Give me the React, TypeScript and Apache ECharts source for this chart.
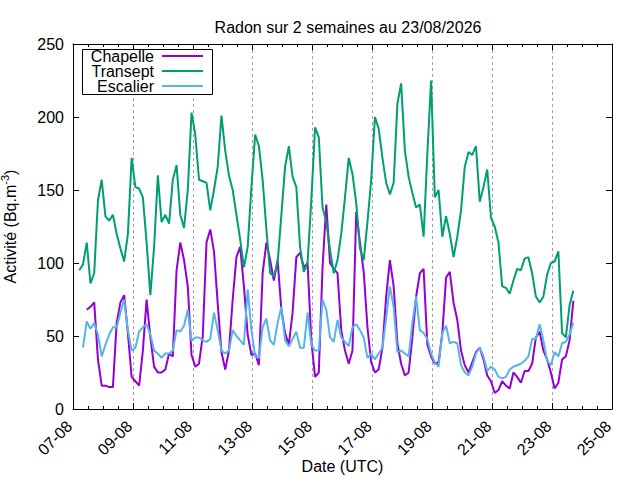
import React, { useEffect, useRef } from "react";
import * as echarts from "echarts";

// Regular sampling of the readings: first sample 07-08 05:00 UTC, one every 3 hours
const START = Date.UTC(2026, 7, 7, 5);
const STEP_HOURS = 3;
const DAY = 86400000;
const X_MIN = Date.UTC(2026, 7, 7);
const X_MAX = Date.UTC(2026, 7, 25);

const TITLE = "Radon sur 2 semaines au 23/08/2026";
const SERIES_NAMES = ["Chapelle", "Transept", "Escalier"];
const SERIES_COLORS = ["#9400d3", "#009e73", "#56b4e9"];

const chapelle = [
  null, null, 68, 70, 73, 34, 16, 16, 15, 15, 59, 73, 78, 52, 22, 19, 16, 40, 75, 49,
  29, 25, 25, 27, 38, 36, 95, 114, 102, 84, 37, 29, 31, 50, 114, 123, 108, 72, 39, 27,
  40, 75, 104, 111, 84, 51, 37, 38, 30, 93, 114, 102, 88, 102, 68, 52, 44, 66, 104, 107,
  97, 100, 47, 22, 25, 97, 140, 100, 96, 93, 54, 40, 31, 40, 135, 114, 94, 56, 32, 25,
  27, 42, 77, 102, 84, 45, 31, 23, 25, 49, 77, 93, 96, 44, 36, 31, 32, 52, 90, 94,
  73, 61, 40, 30, 25, 32, 39, 42, 34, 23, 19, 11, 13, 19, 16, 14, 25, 22, 18, 26,
  26, 31, 49, 53, 40, 34, 25, 14, 18, 34, 36, 47, 74,
];

const transept = [
  95, 99, 114, 86, 93, 143, 157, 132, 129, 133, 120, 110, 101, 120, 172, 152, 151, 145, 114, 78,
  111, 160, 128, 133, 127, 157, 167, 133, 124, 150, 203, 188, 157, 156, 155, 136, 150, 166, 201, 177,
  160, 150, 133, 116, 97, 111, 152, 188, 180, 157, 123, 93, 91, 100, 133, 166, 180, 159, 152, 111,
  94, 100, 143, 193, 186, 138, 128, 109, 93, 102, 120, 145, 172, 161, 141, 110, 102, 128, 157, 200,
  192, 172, 155, 147, 155, 209, 223, 177, 159, 148, 138, 140, 118, 175, 225, 145, 150, 118, 132, 120,
  104, 118, 136, 166, 176, 174, 180, 142, 152, 164, 131, 125, 114, 84, 83, 79, 88, 96, 95, 103,
  104, 93, 77, 73, 77, 92, 100, 101, 108, 52, 49, 71, 81,
];

const escalier = [
  null, 42, 60, 55, 59, 51, 36, 44, 51, 56, 56, 66, 75, 54, 40, 42, 53, 56, 58, 51,
  40, 38, 35, 38, 38, 40, 54, 53, 57, 68, 47, 49, 49, 47, 46, 48, 66, 54, 40, 38,
  40, 54, 50, 47, 44, 82, 54, 36, 35, 56, 62, 47, 44, 59, 70, 47, 43, 48, 53, 42,
  42, 66, 44, 40, 40, 75, 68, 49, 46, 61, 49, 46, 43, 56, 58, 54, 49, 35, 38, 34,
  38, 42, 62, 84, 70, 39, 40, 38, 36, 59, 77, 54, 52, 48, 38, 32, 29, 52, 57, 45,
  46, 45, 30, 25, 23, 29, 38, 42, 36, 26, 29, 27, 22, 21, 22, 27, 29, 30, 31, 33,
  36, 48, 48, 58, 47, 33, 30, 39, 36, 45, 46, 51, 59,
];

const FONT = "'Liberation Sans', Arial, Helvetica, sans-serif";
const FS = 16;

function toPairs(vals: (number | null)[]) {
  return vals.map((v, i) => [START + i * STEP_HOURS * 3600000, v]);
}

function fmtDate(v: number) {
  const d = new Date(v);
  const dd = String(d.getUTCDate()).padStart(2, "0");
  const mm = String(d.getUTCMonth() + 1).padStart(2, "0");
  return dd + "-" + mm;
}

export default function App() {
  const ref = useRef<HTMLDivElement>(null);

  useEffect(() => {
    document.body.style.margin = "0";
    if (!ref.current) return;
    const chart = echarts.init(ref.current, null, { renderer: "svg" });
    const allData = [chapelle, transept, escalier];

    const legendRows = [56, 71, 86];
    const legendGraphics: any[] = [
      {
        type: "rect",
        z: 100,
        shape: { x: 82.5, y: 49.5, width: 130, height: 45 },
        style: { fill: "#ffffff", stroke: "#000000", lineWidth: 1 },
      },
    ];
    SERIES_NAMES.forEach((name, i) => {
      legendGraphics.push({
        type: "text",
        z: 101,
        x: 154,
        y: legendRows[i],
        style: {
          text: name,
          fontFamily: FONT,
          fontSize: FS,
          lineHeight: 14,
          fill: "#000",
          align: "right",
          verticalAlign: "middle",
        },
      });
      legendGraphics.push({
        type: "line",
        z: 101,
        shape: { x1: 162, y1: legendRows[i], x2: 203, y2: legendRows[i] },
        style: { stroke: SERIES_COLORS[i], lineWidth: 2 },
      });
    });

    const axisLineStyle = { color: "#000", width: 1 };

    chart.setOption({
      animation: false,
      backgroundColor: "#ffffff",
      textStyle: { fontFamily: FONT },
      title: {
        text: TITLE,
        left: 343,
        top: 14,
        textAlign: "center",
        textStyle: { fontFamily: FONT, fontSize: FS, fontWeight: "normal", color: "#000" },
      },
      grid: { left: 73, right: 28, top: 44, bottom: 71, containLabel: false, outerBoundsMode: "none" },
      xAxis: [
        {
          type: "value",
          min: X_MIN,
          max: X_MAX,
          interval: 2 * DAY,
          position: "bottom",
          name: "Date (UTC)",
          nameLocation: "middle",
          nameGap: 49,
          nameMoveOverlap: false,
          nameTextStyle: { fontFamily: FONT, fontSize: FS, color: "#000" },
          axisLine: { show: true, onZero: false, lineStyle: axisLineStyle },
          axisTick: { show: true, inside: true, length: 6, lineStyle: axisLineStyle },
          minorTick: { show: true, splitNumber: 4, length: 3, lineStyle: axisLineStyle },
          axisLabel: {
            rotate: 45,
            margin: 11,
            padding: [0, 5, 0, 0],
            fontFamily: FONT,
            fontSize: FS,
            color: "#000",
            formatter: (v: number) => fmtDate(v),
          },
          splitLine: { show: true, lineStyle: { color: "#a0a0a0", type: [3, 3], width: 1 } },
        },
        {
          type: "value",
          min: X_MIN,
          max: X_MAX,
          interval: 2 * DAY,
          position: "top",
          axisLine: { show: true, onZero: false, lineStyle: axisLineStyle },
          axisTick: { show: true, inside: true, length: 6, lineStyle: axisLineStyle },
          minorTick: { show: true, splitNumber: 4, length: 3, lineStyle: axisLineStyle },
          axisLabel: { show: false },
          splitLine: { show: false },
        },
      ],
      yAxis: [
        {
          type: "value",
          min: 0,
          max: 250,
          interval: 50,
          position: "left",
          name: "{a|Activité (Bq.m}{s|-3}{a|)}",
          nameLocation: "middle",
          nameGap: 52,
          nameMoveOverlap: false,
          nameRotate: 90,
          nameTextStyle: {
            rich: {
              a: { fontFamily: FONT, fontSize: FS, color: "#000", lineHeight: 22 },
              s: { fontFamily: FONT, fontSize: 11, color: "#000", lineHeight: 22, verticalAlign: "top" },
            },
          },
          axisLine: { show: true, onZero: false, lineStyle: axisLineStyle },
          axisTick: { show: true, inside: true, length: 6, lineStyle: axisLineStyle },
          axisLabel: { margin: 9, fontFamily: FONT, fontSize: FS, color: "#000" },
          splitLine: { show: false },
        },
        {
          type: "value",
          min: 0,
          max: 250,
          interval: 50,
          position: "right",
          axisLine: { show: true, onZero: false, lineStyle: axisLineStyle },
          axisTick: { show: true, inside: true, length: 6, lineStyle: axisLineStyle },
          axisLabel: { show: false },
          splitLine: { show: false },
        },
      ],
      series: SERIES_NAMES.map((name, i) => ({
        name,
        type: "line",
        xAxisIndex: 0,
        yAxisIndex: 0,
        data: toPairs(allData[i]),
        showSymbol: false,
        symbol: "none",
        connectNulls: false,
        lineStyle: { color: SERIES_COLORS[i], width: 2 },
        itemStyle: { color: SERIES_COLORS[i] },
      })),
      graphic: legendGraphics,
    });

    return () => chart.dispose();
  }, []);

  return <div ref={ref} style={{ width: 640, height: 480 }} />;
}
